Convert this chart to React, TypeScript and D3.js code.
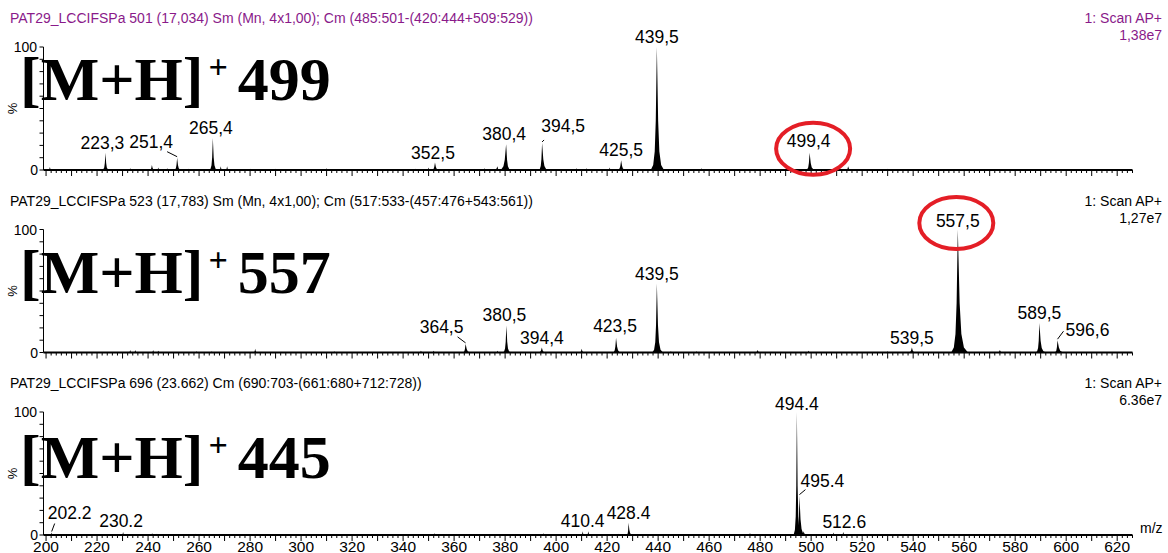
import * as d3 from "d3";

// m/z, % of base peak, left and right half-width (m/z units)
type Peak = [number, number, number, number];

const mzDomain: [number, number] = [199, 626];
const mzTickLabels = d3.range(200, 621, 20);

const panel1Peaks: Peak[] = [
  [201.5, 2.5, 1, 1], [223.3, 14, 1.4, 1.5], [233, 1.5, 1, 1], [241.5, 4, 1.2, 1.5],
  [244, 2, 1, 1], [247.5, 1.5, 1, 1], [251.4, 10, 1.4, 1.8], [256, 1, 1, 1],
  [265.4, 26, 1.5, 1.8], [268.5, 3, 1, 1], [271, 3, 1, 1], [280, 1, 1, 1],
  [290, 1, 1, 1], [310, 1.5, 1, 1], [345, 1, 1, 1], [350, 2, 1, 1],
  [352.5, 6, 1.6, 2], [372, 1.5, 1, 1], [377, 3, 2, 1], [380.4, 21, 3, 2],
  [394.5, 22, 1.5, 2.6], [408, 1.5, 1, 1], [412, 1.5, 1, 1], [421, 2, 1, 1],
  [425.5, 8, 1.8, 2], [439.5, 100, 2.4, 2.8], [457, 1.5, 1, 1], [499.4, 14, 1.6, 2.4],
  [514.5, 3, 1.2, 1.5], [530, 1, 1, 1]
];
const panel1Labels = ["223,3", "251,4", "265,4", "352,5", "380,4", "394,5", "425,5", "439,5", "499,4"];

const panel2Peaks: Peak[] = [
  [233, 2, 1, 1], [235, 2, 1, 1], [242, 2, 1, 1], [244, 1.5, 1, 1],
  [259, 1, 1, 1], [265, 1, 1, 1], [282, 3, 1, 1.2], [313, 1, 1, 1],
  [347, 1.5, 1, 1], [352, 1.5, 1, 1], [364.5, 7, 1.4, 2.4], [377, 1.5, 1, 1],
  [380.5, 22, 1.5, 1.8], [394.4, 4, 1.8, 1.8], [410, 3, 1.2, 1.5], [423.5, 12, 1.5, 2.2],
  [439.5, 56, 1.8, 2.4], [445, 1, 1, 1], [455, 1, 1, 1], [479, 2, 1.5, 1.5],
  [499, 1.5, 1, 1], [530, 1, 1, 1], [539.5, 4, 1.8, 1.8], [557.5, 100, 2.6, 4],
  [574, 2, 1.5, 1.5], [589.5, 24, 1.5, 2.6], [596.6, 10, 1.4, 3]
];
const panel2Labels = ["364,5", "380,5", "394,4", "423,5", "439,5", "539,5", "557,5", "589,5", "596,6"];

const panel3Peaks: Peak[] = [
  [202.2, 2, 1, 1], [230.2, 2.5, 0.8, 1], [241.6, 1.5, 1, 1], [243.5, 1, 1, 1],
  [258.5, 1, 1, 1], [260.5, 1, 1, 1], [352.3, 1.5, 1, 1], [395, 1.5, 1, 1],
  [410.4, 3, 0.8, 1], [412.6, 3, 0.8, 1.2], [424.5, 1, 1, 1], [428.4, 10, 0.9, 1.8],
  [476, 1.5, 1, 1.5], [494.4, 100, 1.3, 1.6], [495.4, 32, 1.2, 2.4], [497, 3, 1, 2],
  [508.8, 2, 1, 1], [512.6, 2.5, 1, 1]
];
const panel3Labels = ["202.2", "230.2", "410.4", "428.4", "494.4", "495.4", "512.6"];

// label placement tweaks (px): dx, dy, optional leader start relative to label anchor
const labelNudges: Record<string, { dx?: number; dy?: number; leader?: [number, number] }> = {
  "223,3": { dx: -3 },
  "251,4": { dx: -26, dy: -6, leader: [16, 4] },
  "265,4": { dx: -2 },
  "352,5": { dx: -2 },
  "380,4": { dx: -2 },
  "394,5": { dx: 21, dy: -7, leader: [-19, 8] },
  "499,4": { dx: -1, dy: -2 },
  "364,5": { dx: -24, dy: -7, leader: [16, 4] },
  "380,5": { dx: -2 },
  "423,5": { dx: -1, dy: -2 },
  "557,5": { dy: 1 },
  "596,6": { dx: 30, leader: [-24, -5] },
  "202.2": { dx: 18, dy: -10, leader: [-15, 5] },
  "230.2": { dx: -2, dy: -1 },
  "494.4": { dy: 2 },
  "495.4": { dx: 23, dy: -5, leader: [-17, 3] },
  "512.6": { dx: 1 }
};

const panels = [
  {
    title: "PAT29_LCCIFSPa  501 (17,034) Sm (Mn, 4x1,00); Cm (485:501-(420:444+509:529))",
    color: "#8a1a8a",
    intensity: "1,38e7",
    ion: "499",
    ionY: 100,
    peaks: panel1Peaks,
    labels: panel1Labels,
    ring: { mz: 499.4, dx: 3.5, dy: -4 }
  },
  {
    title: "PAT29_LCCIFSPa  523 (17,783) Sm (Mn, 4x1,00); Cm (517:533-(457:476+543:561))",
    color: "#000",
    intensity: "1,27e7",
    ion: "557",
    ionY: 110,
    peaks: panel2Peaks,
    labels: panel2Labels,
    ring: { mz: 557.5, dx: -1.5, dy: -6.5 }
  },
  {
    title: "PAT29_LCCIFSPa 696 (23.662) Cm (690:703-(661:680+712:728))",
    color: "#000",
    intensity: "6.36e7",
    ion: "445",
    ionY: 113,
    peaks: panel3Peaks,
    labels: panel3Labels,
    ring: null
  }
];

// relative shape of one peak
const profile: [number, number][] = [
  [-1, 0], [-0.6, 0.04], [-0.35, 0.15], [-0.18, 0.4], [-0.06, 0.8], [0, 1],
  [0.06, 0.8], [0.18, 0.4], [0.35, 0.15], [0.6, 0.04], [1, 0]
];

const sans = "'Liberation Sans', Arial, sans-serif";
const serif = "'Liberation Serif', 'Times New Roman', serif";

function Panel({ panel, top, x, last }: { panel: (typeof panels)[number]; top: number; x: d3.ScaleLinear<number, number>; last: boolean }) {
  const y = d3.scaleLinear([0, 100], [top + 170, top + 47]);
  const x0 = x(mzDomain[0]);
  const x1 = x(mzDomain[1]);
  const area = d3
    .area<[number, number]>()
    .x((d) => x(d[0]))
    .y0(y(0))
    .y1((d) => y(d[1]));
  const minorTicks = d3.range(200, mzDomain[1] + 0.01, 2);

  return (
    <g>
      <text x={10} y={top + 23} fontSize={14} fill={panel.color}>{panel.title}</text>
      <text x={1162} y={top + 23} fontSize={14} fill={panel.color} textAnchor="end">1: Scan AP+</text>
      <text x={1162} y={top + 40} fontSize={14} fill={panel.color} textAnchor="end">{panel.intensity}</text>

      <text x={20} y={top + panel.ionY} fontFamily={serif} fontWeight="bold" fontSize={62}>
        [M+H]
        <tspan dx={5} dy={-22} fontSize={34}>+</tspan>
        <tspan dx={10} dy={22}>{panel.ion}</tspan>
      </text>

      {/* y axis */}
      <line x1={x0} x2={x0} y1={y(0)} y2={y(100)} stroke="#000" strokeWidth={1} />
      {d3.range(0, 101, 10).map((t) => (
        <line key={t} x1={x0 - 4} x2={x0} y1={y(t)} y2={y(t)} stroke="#000" strokeWidth={1} />
      ))}
      <text x={37} y={y(100) + 5} fontSize={14} textAnchor="end">100</text>
      <text x={38} y={y(0) + 5} fontSize={14} textAnchor="end">0</text>
      <text transform={`translate(17, ${y(50)}) rotate(-90)`} fontSize={13} textAnchor="middle">%</text>

      {/* peaks */}
      {panel.peaks.map(([mz, pct, wl, wr]) => (
        <path
          key={mz}
          d={area(profile.map(([o, f]) => [mz + o * (o < 0 ? wl : wr), pct * f] as [number, number])) ?? undefined}
          fill="#000"
        />
      ))}

      {/* x axis */}
      <line x1={x0} x2={x1} y1={y(0)} y2={y(0)} stroke="#000" strokeWidth={2} />
      {minorTicks.map((t) => (
        <line key={t} x1={x(t)} x2={x(t)} y1={y(0)} y2={y(0) + (t % 10 === 0 ? 6 : 3)} stroke="#000" strokeWidth={1} />
      ))}
      {last &&
        mzTickLabels.map((t) => (
          <text key={t} x={x(t)} y={552} fontSize={15.5} textAnchor="middle">{t}</text>
        ))}
      {last && <text x={1140} y={y(0) - 2} fontSize={14}>m/z</text>}

      {/* peak labels */}
      {panel.labels.map((label) => {
        const mz = parseFloat(label.replace(",", "."));
        const peak = panel.peaks.reduce((a, b) => (Math.abs(b[0] - mz) < Math.abs(a[0] - mz) ? b : a));
        const px = x(mz);
        const tip = y(peak[1]);
        const nudge = labelNudges[label] ?? {};
        const lx = px + (nudge.dx ?? 0);
        const ly = tip - 4 + (nudge.dy ?? 0);
        return (
          <g key={label}>
            <text x={lx} y={ly} fontSize={17.5} textAnchor="middle">{label}</text>
            {nudge.leader && (
              <line x1={lx + nudge.leader[0]} y1={ly + nudge.leader[1]} x2={px} y2={tip - 1} stroke="#000" strokeWidth={1} />
            )}
          </g>
        );
      })}

      {panel.ring && (
        <ellipse
          cx={x(panel.ring.mz) + panel.ring.dx}
          cy={y(panel.peaks.find((p) => p[0] === panel.ring!.mz)![1]) + panel.ring.dy}
          rx={37}
          ry={26}
          fill="none"
          stroke="#e41e26"
          strokeWidth={4}
        />
      )}
    </g>
  );
}

export default function App() {
  const x = d3.scaleLinear(mzDomain, [43.5, 1132.5]);
  return (
    <svg
      width={1168}
      height={553}
      viewBox="0 0 1168 553"
      fontFamily={sans}
      style={{ position: "absolute", left: 0, top: 0, background: "#fff" }}
    >
      {panels.map((panel, i) => (
        <Panel key={i} panel={panel} top={i * 182.5} x={x} last={i === panels.length - 1} />
      ))}
    </svg>
  );
}
